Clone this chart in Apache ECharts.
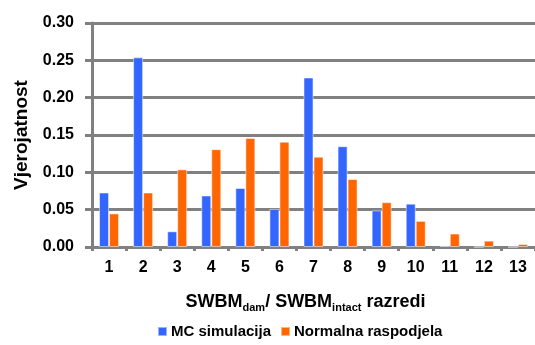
<!DOCTYPE html>
<html>
<head>
<meta charset="utf-8">
<script src="https://cdn.jsdelivr.net/npm/echarts@6/dist/echarts.min.js"></script>
<style>
html,body{margin:0;padding:0;background:#fff;}
#chart{width:535px;height:345px;}
</style>
</head>
<body>
<div id="chart"></div>
<script>
// razredi
var categories = ['1','2','3','4','5','6','7','8','9','10','11','12','13'];
// MC simulacija
var mcValues = [0.073, 0.254, 0.021, 0.069, 0.079, 0.051, 0.227, 0.135, 0.049, 0.058, 0.002, 0, 0];
// Normalna raspodjela
var normValues = [0.045, 0.073, 0.104, 0.131, 0.146, 0.141, 0.121, 0.091, 0.060, 0.035, 0.018, 0.0085, 0.004];
var yTicks = [0, 0.3, 0.05];

var chart = echarts.init(document.getElementById('chart'));
var lineGrey = '#808080';
var option = {
	animation: false,
	grid: {left: 92, top: 23, bottom: 98, width: 451},
	legend: {
		bottom: 1, left: 152, itemWidth: 9, itemHeight: 9, itemGap: 9,
		icon: 'rect',
		textStyle: {fontFamily: 'Liberation Sans', fontWeight: 'bold', fontSize: 15, color: '#000', padding: [0, 0, 0, -1]},
		data: ['MC simulacija', 'Normalna raspodjela']
	},
	xAxis: {
		type: 'category',
		data: categories,
		axisLine: {lineStyle: {color: lineGrey, width: 3}},
		axisTick: {show: true, length: 4, lineStyle: {color: lineGrey, width: 3}},
		axisLabel: {fontFamily: 'Liberation Sans', fontWeight: 'bold', fontSize: 16, color: '#000', margin: 13},
		name: '{b|SWBM}{s|dam}{b|/ SWBM}{s|intact}{b| razredi}',
		nameLocation: 'middle',
		nameGap: 45,
		nameTextStyle: {
			padding: [0, 16, 0, 0],
			rich: {
				b: {fontFamily: 'Liberation Sans', fontWeight: 'bold', fontSize: 18, color: '#000', lineHeight: 20},
				s: {fontFamily: 'Liberation Sans', fontWeight: 'bold', fontSize: 11, color: '#000', lineHeight: 20, padding: [11, 0, 0, 0]}
			}
		}
	},
	yAxis: {
		type: 'value',
		min: yTicks[0], max: yTicks[1], interval: yTicks[2],
		axisLine: {show: true, lineStyle: {color: lineGrey, width: 3}},
		axisTick: {show: true, length: 7, lineStyle: {color: lineGrey, width: 3}},
		splitLine: {show: true, lineStyle: {color: lineGrey, width: 3, type: 'solid'}},
		axisLabel: {fontFamily: 'Liberation Sans', fontWeight: 'bold', fontSize: 16, color: '#000', margin: 18,
			formatter: function(v){return v.toFixed(2);}},
		name: 'Vjerojatnost',
		nameLocation: 'middle',
		nameGap: 61,
		nameTextStyle: {fontFamily: 'Liberation Sans', fontWeight: 'bold', fontSize: 19, color: '#000'}
	},
	series: [
		{name: 'MC simulacija', type: 'bar', data: mcValues, barWidth: 10, barGap: '0%',
			itemStyle: {color: '#3366ff', borderColor: 'rgba(255,255,255,0.5)', borderWidth: 1}},
		{name: 'Normalna raspodjela', type: 'bar', data: normValues, barWidth: 10, barGap: '0%',
			itemStyle: {color: '#ff6600', borderColor: 'rgba(255,255,255,0.5)', borderWidth: 1}}
	]
};
chart.setOption(option);
</script>
</body>
</html>
